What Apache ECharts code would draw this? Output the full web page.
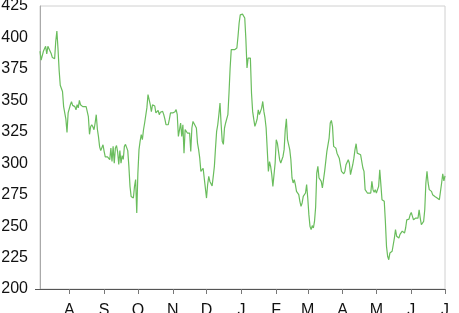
<!DOCTYPE html>
<html>
<head>
<meta charset="utf-8">
<script src="https://cdn.jsdelivr.net/npm/echarts@6/dist/echarts.min.js"></script>
<style>
html,body{margin:0;padding:0;background:#fff;}
#chart{width:459px;height:313px;}
</style>
</head>
<body>
<div id="chart"></div>
<script>
// Day offsets counted from 2009-08-01 and closing values
const baseDate = [2009, 7, 1];
const dayOffsets = [
 -26,-25,-23,-21,-20,-19,-17,-16,-15,-13,-12,-11,-10,-9,-8,-7,-6,-5,-3,-2,-1,
 0,1,2,3,5,6,7,8,9,10,12,13,15,16,17,18,19,20,21,22,23,24,25,26,27,28,29,30,
 31,32,34,35,36,37,38,39,40,41,42,43,44,45,46,47,48,49,50,51,52,53,54,55,56,57,58,59,60,
 61,62,63,64,65,66,67,68,69,70,71,72,73,74,75,76,77,78,79,80,81,83,84,85,86,88,89,90,
 92,94,95,96,97,98,99,100,101,102,103,104,105,106,107,108,109,110,111,113,114,115,116,117,118,119,120,
 122,123,124,125,126,127,128,129,130,131,132,133,134,135,136,137,138,139,141,142,143,144,145,147,149,150,151,152,
 154,155,156,157,158,159,161,162,163,164,165,166,167,168,169,171,172,173,174,175,176,177,178,179,180,181,182,
 183,184,185,186,187,188,189,190,191,192,193,194,195,196,197,198,199,200,201,202,203,204,205,206,207,208,209,210,211,
 212,213,214,215,216,217,218,219,220,221,222,223,224,225,227,228,229,230,231,232,233,234,235,236,237,238,240,241,242,
 244,245,246,248,249,250,251,252,253,254,255,256,257,259,260,261,262,263,265,266,268,269,270,271,272,273,
 275,276,277,278,279,280,281,282,283,284,285,286,287,288,289,290,291,292,293,294,295,296,297,298,299,300,301,302,303,
 304,305,306,308,309,310,311,312,313,314,315,316,317,318,319,320,321,322,323,324,325,327,328,329,330,331,332,333,334
];
const prices = [
 389,382,389,393,387,393,389,387,384,383,397,405,391,374,362,362,357,345,335,324.5,340,
 340,346.5,349,346,345,342.5,346.5,344,350,346.5,345,346,345,345,337,323,329,330.6,329,326.6,332,338.6,327,321,313,310,310,314.7,
 309.5,305,305,304,302.8,312,301.5,313.4,300,312,314,309,299,310,300,306,303,313.4,315,316,310,297.5,281.6,273.6,272.3,272.3,281.6,287,260.4,
 292,310.8,317.6,322.7,318.8,326.6,332,332.3,344,354.5,354.5,346.5,341,346.5,347.3,345.5,340,340,342,338.6,340.5,341.2,338.6,335,330.6,330.6,335,340,
 340,341,342.6,338.6,321.3,326.6,332,321.3,330.6,308,326.7,328,324,325.4,324,309.4,328,333.2,333.2,328,316,310.8,304,293.5,294.8,296,296,
 272.3,282.9,289.5,285.5,285.5,282,289.5,297.5,312,325.3,330.6,338.6,347.9,331,317.4,315,328,332,338.6,355.8,375.7,390.3,390.3,390.3,391.6,400.8,411.5,418,
 418.5,418,415.5,398.6,375.7,383.6,383.6,355.8,341.2,335,329.3,332,335,342.5,338.6,343.8,349.1,341.2,336,328,310.8,293.5,301.3,297.5,290.9,281.6,281.6,
 300,318.7,316,309.4,302.8,300.2,300.2,305.4,310.8,326.6,335.4,318.7,317.4,310.8,302.8,288.3,284.3,287,283,277.6,279,275,269.7,265.7,268.4,273.6,275,276.3,283,
 272.3,259.1,249.8,247.2,250.4,248.5,253.7,265,292.2,297.5,288.3,287,285.6,280.3,293.5,292.2,309.4,310.8,320,332,334,329.3,313.4,313.4,312,308,304,298.8,293.5,
 291.6,293.5,298.8,302.8,300,290.9,290.9,298.8,304,310.8,315.5,308,306.7,306.7,306,296.2,293.5,279,276.3,276.3,276.3,285.6,279,277,279,276.3,
 281.6,294.8,283,271,269.7,269.7,253.7,233.9,226,223.3,228.6,230,230,231.3,240.5,247.2,242,243.4,240.5,243.4,244.5,246,247.2,244.5,248.5,255,253.7,255.6,259,
 260.9,260.4,255,256.4,257.7,256.4,263,256.4,251.1,250.3,253.7,263,284.3,293.5,284.3,279,277.6,277.6,275,273.6,273.6,272.3,271.5,271,269.7,284.3,291.6,286,290
];
const axisStart = '2009-07-06';
const axisEnd = '2010-07-01';
const monthTicks = ['2009-08-01','2009-09-01','2009-10-01','2009-11-01','2009-12-01','2010-01-01',
  '2010-02-01','2010-03-01','2010-04-01','2010-05-01','2010-06-01','2010-07-01'];
const monthLetters = ['J','F','M','A','M','J','J','A','S','O','N','D'];
const yMin = 200, yMax = 425, yStep = 25;

function toTime(s){ const p = s.split('-').map(Number); return new Date(p[0], p[1]-1, p[2]).getTime(); }
const seriesData = dayOffsets.map((d, i) => [new Date(baseDate[0], baseDate[1], baseDate[2] + d).getTime(), prices[i]]);
const tickTimes = monthTicks.map(toTime);

const chart = echarts.init(document.getElementById('chart'), null, {renderer: 'canvas'});
chart.setOption({
  animation: false,
  grid: {left: 40, right: 14, top: 6, bottom: 24, show: true, borderColor: '#d0d0d0', borderWidth: 1,
         containLabel: false, outerBoundsMode: 'none'},
  xAxis: {
    type: 'value',
    min: toTime(axisStart),
    max: toTime(axisEnd),
    axisLine: {show: true, lineStyle: {color: '#555', width: 1}},
    axisTick: {show: true, length: 5, customValues: tickTimes, lineStyle: {color: '#777'}},
    axisLabel: {
      customValues: tickTimes,
      formatter: v => monthLetters[new Date(v).getMonth()],
      fontFamily: 'Liberation Sans', fontSize: 16, color: '#111', margin: 14
    },
    splitLine: {show: false}
  },
  yAxis: {
    type: 'value',
    min: yMin, max: yMax, interval: yStep,
    axisLine: {show: true, lineStyle: {color: '#aaa'}},
    axisTick: {show: true, length: 5, customValues: [yMin], lineStyle: {color: '#555'}},
    axisLabel: {fontFamily: 'Liberation Sans', fontSize: 16, color: '#111', margin: 12},
    splitLine: {show: true, lineStyle: {color: '#e3e3e3', width: 1}}
  },
  series: [{
    type: 'line',
    data: seriesData,
    showSymbol: false,
    lineStyle: {color: '#6abd5d', width: 1.2},
    itemStyle: {color: '#6abd5d'}
  }]
});
</script>
</body>
</html>
